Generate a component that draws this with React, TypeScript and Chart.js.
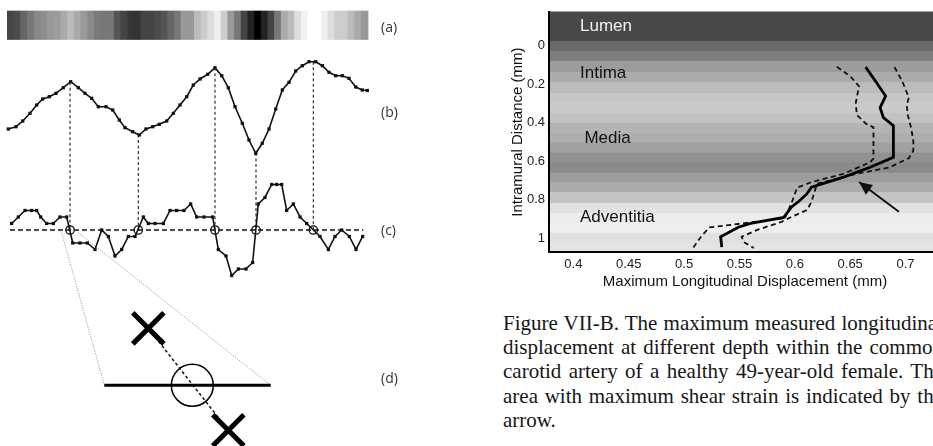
import React, { useEffect, useRef } from 'react';
import { Chart, registerables } from 'chart.js';

Chart.register(...registerables);
Chart.defaults.font.family = "'Liberation Sans', Arial, sans-serif";

// ---------------- Left figure: (a) strip, (b) intensity, (c) derivative, (d) zoom ----------------
// (a) grey level (0-255) of each lateral sample cell of the strip
const stripGray = [70, 76, 102, 119, 136, 142, 153, 156, 170, 187, 170, 154, 138, 122, 119, 119, 85, 68, 53, 51,
  68, 68, 75, 85, 102, 119, 153, 153, 187, 204, 221, 238, 204, 153, 119, 68, 34, 0, 34, 68,
  119, 170, 187, 221, 242, 255, 255, 240, 221, 204, 204, 187, 170, 153];

// (b) intensity profile: lateral position (samples) and intensity
const bPos = [0.15, 1.3, 2.31, 3.4, 4.4, 5.3, 6.29, 7.29, 8.38, 9.49, 10.63, 11.63, 12.63, 13.62, 14.78, 15.78,
  16.77, 17.62, 18.77, 19.76, 20.76, 21.77, 22.75, 23.86, 24.85, 25.85, 26.86, 27.84, 28.85, 30.0, 31.09,
  32.1, 33.08, 34.09, 35.18, 36.18, 37.19, 38.17, 39.18, 40.18, 41.17, 42.17, 43.17, 44.16, 45.16, 46.17,
  47.16, 48.16, 49.16, 50.15, 51.15, 52.16, 53.14, 53.9];
const bVal = [3.1, 3.33, 3.9, 4.67, 5.5, 6.1, 6.33, 6.67, 7.23, 7.83, 7.23, 6.67, 6.17, 5.33, 5.33, 5.0,
  4.0, 3.23, 2.83, 2.5, 3.1, 3.33, 3.57, 3.9, 4.67, 5.5, 6.33, 7.5, 8.1, 8.57, 9.23,
  8.43, 7.23, 5.33, 3.67, 2.0, 0.67, 1.67, 3.1, 5.1, 7.0, 7.77, 8.9, 9.43, 9.83, 9.83,
  9.43, 8.77, 8.43, 8.43, 8.17, 7.3, 7.0, 6.95];

// (c) quantised derivative: lateral position (samples) and level
const cPos = [0.65, 1.65, 2.65, 3.65, 4.4, 5.0, 5.89, 6.89, 7.89, 8.89, 9.79, 10.88, 11.98, 13.13, 14.13, 15.13,
  16.12, 17.12, 18.12, 19.12, 20.36, 21.11, 22.11, 23.36, 24.36, 25.35, 26.45, 27.45, 28.35, 29.45, 30.74,
  31.59, 32.74, 33.59, 34.59, 35.73, 36.73, 37.57, 38.57, 39.58, 40.33, 41.08, 41.82, 42.82, 43.82, 44.82,
  46.81, 48.06, 49.06, 50.06, 51.2, 52.2, 53.2];
const cVal = [1, 2, 3, 3, 3, 2, 1, 1, 2, 2, -2, -2, -2, -3, 0, -1, -4, -3, -1, -1, 2, 1, 1, 1, 3, 3, 3, 4, 2, 2, 2,
  -3, -4, -7, -6, -6, -5, 4, 5, 7, 7, 7, 3, 4, 2, 1, -1, -3, -1, 0, -1, -3, -1];

// zero crossings of (c) (= extrema of (b))
const crossings = [9.39, 19.61, 31.09, 37.23, 45.81];
// extent of the zero reference line of (c)
const zeroLineX = [0.4, 53.3];
// start of the zoom guide lines, in (c) units
const zoomFromX = [8.14, 10.63];
const zoomFromY = [-0.42, -0.42];

// (d) magnified crossing, in local units
const dBaselineX = [-1.1, 0.98];
const dSampleX = [-0.55, 0.45];
const dSampleY = [1.0, -0.79];

const panelLabels = ['(a)', '(b)', '(c)', '(d)'];

// ---------------- Right figure ----------------
const xTicks = [0.4, 0.45, 0.5, 0.55, 0.6, 0.65, 0.7];
const yTicks = [0, 0.2, 0.4, 0.6, 0.8, 1];

// mean displacement vs depth (solid)
const meanDisp = [0.664, 0.674, 0.682, 0.677, 0.68, 0.689, 0.689, 0.668, 0.644, 0.615, 0.611, 0.603, 0.597, 0.59, 0.56, 0.549, 0.533, 0.534];
const meanDepth = [0.112, 0.194, 0.262, 0.322, 0.374, 0.416, 0.579, 0.631, 0.682, 0.734, 0.768, 0.811, 0.837, 0.891, 0.922, 0.942, 0.991, 1.045];
// lower bound (dashed)
const lowDisp = [0.638, 0.65, 0.658, 0.655, 0.656, 0.664, 0.671, 0.671, 0.668, 0.644, 0.615, 0.602, 0.598, 0.591, 0.523, 0.516, 0.508];
const lowDepth = [0.11, 0.159, 0.211, 0.298, 0.36, 0.404, 0.424, 0.586, 0.605, 0.665, 0.708, 0.737, 0.802, 0.895, 0.943, 0.985, 1.05];
// upper bound (dashed)
const highDisp = [0.69, 0.697, 0.703, 0.701, 0.702, 0.705, 0.707, 0.707, 0.703, 0.695, 0.686, 0.656, 0.62, 0.615, 0.611, 0.597, 0.588, 0.566, 0.552, 0.554, 0.563];
const highDepth = [0.112, 0.185, 0.27, 0.308, 0.36, 0.427, 0.494, 0.545, 0.584, 0.605, 0.631, 0.665, 0.716, 0.811, 0.853, 0.888, 0.914, 0.956, 0.991, 1.02, 1.05];
// arrow (tail -> tip) marking maximum shear strain
const arrowDisp = [0.694, 0.658];
const arrowDepth = [0.862, 0.708];

// background depth bands of the B-mode image
const bandEdges = [-0.175, -0.021, 0.031, 0.082, 0.139, 0.19, 0.248, 0.3, 0.351, 0.403, 0.454, 0.505, 0.557, 0.608,
  0.66, 0.711, 0.762, 0.819, 0.87, 0.922, 0.973, 1.025, 1.072];
const bandGray = [72, 106, 125, 156, 171, 188, 198, 202, 194, 180, 173, 160, 145, 138, 157, 172, 196, 226, 236, 239, 224, 228];

const layerNames = ['Lumen', 'Intima', 'Media', 'Adventitia'];
const layerDisp = [0.406, 0.406, 0.41, 0.406];
const layerDepth = [-0.1, 0.142, 0.482, 0.893];
const layerColor = ['#f2f2f2', '#111', '#111', '#111'];

const captionLines = [
  'Figure VII-B. The maximum measured longitudinal',
  'displacement at different depth within the common',
  'carotid artery of a healthy 49-year-old female. The',
  'area with maximum shear strain is indicated by the',
  'arrow.',
];

const pts = (xs: number[], ys: number[]) => xs.map((x, i) => ({ x, y: ys[i] }));
const gray = (g: number) => `rgb(${g},${g},${g})`;

function interp(xs: number[], ys: number[], x: number) {
  for (let i = 1; i < xs.length; i++) {
    if (x <= xs[i]) {
      const t = (x - xs[i - 1]) / (xs[i] - xs[i - 1]);
      return ys[i - 1] + t * (ys[i] - ys[i - 1]);
    }
  }
  return ys[ys.length - 1];
}

const leftGuides = {
  id: 'leftGuides',
  beforeDatasetsDraw(chart: any) {
    const { ctx, scales } = chart;
    const { x, yB, yC, xD, yD } = scales;
    ctx.save();
    ctx.strokeStyle = '#222';
    ctx.lineWidth = 1.1;
    ctx.setLineDash([3, 2.5]);
    crossings.forEach((s) => {
      const px = x.getPixelForValue(s);
      ctx.beginPath();
      ctx.moveTo(px, yB.getPixelForValue(interp(bPos, bVal, s)));
      ctx.lineTo(px, yC.getPixelForValue(0));
      ctx.stroke();
    });
    ctx.strokeStyle = '#888';
    ctx.lineWidth = 0.8;
    ctx.setLineDash([1.2, 1.3]);
    zoomFromX.forEach((sx, i) => {
      ctx.beginPath();
      ctx.moveTo(x.getPixelForValue(sx), yC.getPixelForValue(zoomFromY[i]));
      ctx.lineTo(xD.getPixelForValue(dBaselineX[i]), yD.getPixelForValue(0));
      ctx.stroke();
    });
    ctx.restore();
  },
};

const bandPlugin = {
  id: 'bands',
  beforeDraw(chart: any) {
    const { ctx, chartArea, scales } = chart;
    const y = scales.y;
    ctx.save();
    for (let i = 0; i < bandGray.length; i++) {
      const y0 = y.getPixelForValue(bandEdges[i]);
      const y1 = y.getPixelForValue(bandEdges[i + 1]);
      ctx.fillStyle = gray(bandGray[i]);
      ctx.fillRect(chartArea.left, Math.min(y0, y1) - 0.3, chartArea.right - chartArea.left, Math.abs(y1 - y0) + 0.6);
    }
    ctx.restore();
  },
  beforeDatasetsDraw(chart: any) {
    const { ctx, scales } = chart;
    ctx.save();
    ctx.font = "17px 'Liberation Sans', Arial, sans-serif";
    ctx.textBaseline = 'middle';
    ctx.textAlign = 'left';
    layerNames.forEach((name, i) => {
      ctx.fillStyle = layerColor[i];
      ctx.fillText(name, scales.x.getPixelForValue(layerDisp[i]), scales.y.getPixelForValue(layerDepth[i]));
    });
    ctx.restore();
  },
  afterDatasetsDraw(chart: any) {
    const meta = chart.getDatasetMeta(3);
    if (!meta || meta.data.length < 2) return;
    const p0 = meta.data[0];
    const p1 = meta.data[1];
    const a = Math.atan2(p1.y - p0.y, p1.x - p0.x);
    const len = 13;
    const hw = 6;
    const { ctx } = chart;
    ctx.save();
    ctx.fillStyle = '#111';
    ctx.beginPath();
    ctx.moveTo(p1.x, p1.y);
    const bx = p1.x - len * Math.cos(a);
    const by = p1.y - len * Math.sin(a);
    ctx.lineTo(bx + hw * Math.sin(a), by - hw * Math.cos(a));
    ctx.lineTo(bx - hw * Math.sin(a), by + hw * Math.cos(a));
    ctx.closePath();
    ctx.fill();
    ctx.restore();
  },
};

const hidden = (min: number, max: number) => ({ type: 'linear', display: false, offset: false, min, max, grid: { offset: false } });

export default function App() {
  const leftRef = useRef<HTMLCanvasElement>(null);
  const rightRef = useRef<HTMLCanvasElement>(null);

  useEffect(() => {
    const left = new Chart(leftRef.current as HTMLCanvasElement, {
      type: 'line',
      data: {
        datasets: [
          {
            type: 'bar',
            data: stripGray.map((g, k) => ({ x: k + 0.5, y: [0, 1] })) as any,
            backgroundColor: stripGray.map(gray),
            borderWidth: 0,
            barPercentage: 1,
            categoryPercentage: 1,
            grouped: false,
            xAxisID: 'x',
            yAxisID: 'yA',
          } as any,
          {
            data: pts(bPos, bVal),
            xAxisID: 'x',
            yAxisID: 'yB',
            borderColor: '#111',
            borderWidth: 1.6,
            pointStyle: 'rect',
            pointRadius: 2.3,
            pointBackgroundColor: '#111',
            pointBorderWidth: 0,
          },
          {
            data: pts(cPos, cVal),
            xAxisID: 'x',
            yAxisID: 'yC',
            borderColor: '#111',
            borderWidth: 1.6,
            pointStyle: 'rect',
            pointRadius: 2.3,
            pointBackgroundColor: '#111',
            pointBorderWidth: 0,
          },
          {
            data: zeroLineX.map((x) => ({ x, y: 0 })),
            xAxisID: 'x',
            yAxisID: 'yC',
            borderColor: '#111',
            borderWidth: 1.4,
            borderDash: [5, 3],
            pointRadius: 0,
          },
          {
            data: crossings.map((x) => ({ x, y: 0 })),
            xAxisID: 'x',
            yAxisID: 'yC',
            showLine: false,
            pointRadius: 4.2,
            pointBorderColor: '#111',
            pointBackgroundColor: 'rgba(0,0,0,0)',
            pointBorderWidth: 1.3,
          },
          {
            data: dBaselineX.map((x) => ({ x, y: 0 })),
            xAxisID: 'xD',
            yAxisID: 'yD',
            borderColor: '#000',
            borderWidth: 3,
            pointRadius: 0,
          },
          {
            data: pts(dSampleX, dSampleY),
            xAxisID: 'xD',
            yAxisID: 'yD',
            borderColor: '#111',
            borderWidth: 1.5,
            borderDash: [3, 2.5],
            pointStyle: 'crossRot',
            pointRadius: 22,
            pointBorderWidth: 5,
            pointBorderColor: '#000',
          },
          {
            data: [{ x: 0, y: 0 }],
            xAxisID: 'xD',
            yAxisID: 'yD',
            showLine: false,
            pointRadius: 21,
            pointBorderWidth: 1.5,
            pointBorderColor: '#000',
            pointBackgroundColor: 'rgba(0,0,0,0)',
          },
        ],
      },
      options: {
        responsive: false,
        animation: false,
        events: [],
        layout: { padding: 0, autoPadding: false } as any,
        datasets: { bar: { barPercentage: 1, categoryPercentage: 1 } } as any,
        plugins: { legend: { display: false }, tooltip: { enabled: false } },
        scales: {
          x: hidden(-1.093, 61.78),
          xD: hidden(-2.404, 2.846),
          yA: hidden(-14.26, 1.386),
          yB: hidden(-28.6, 16),
          yC: hidden(-33.23, 35.38),
          yD: hidden(-1.065, 6.76),
        } as any,
      },
      plugins: [leftGuides],
    });

    const tickFont = { family: "'Liberation Sans', Arial, sans-serif", size: 13 };
    const titleFont = { family: "'Liberation Sans', Arial, sans-serif", size: 15 };
    const right = new Chart(rightRef.current as HTMLCanvasElement, {
      type: 'line',
      data: {
        datasets: [
          { data: pts(meanDisp, meanDepth), borderColor: '#000', borderWidth: 2.8, pointRadius: 0 },
          { data: pts(lowDisp, lowDepth), borderColor: '#111', borderWidth: 1.8, borderDash: [5, 3.5], pointRadius: 0 },
          { data: pts(highDisp, highDepth), borderColor: '#111', borderWidth: 1.8, borderDash: [5, 3.5], pointRadius: 0 },
          { data: pts(arrowDisp, arrowDepth), borderColor: '#111', borderWidth: 1.9, pointRadius: 0 },
        ],
      },
      options: {
        responsive: false,
        animation: false,
        events: [],
        layout: { padding: { left: 14.5, top: 10, right: 1, bottom: 0 }, autoPadding: false } as any,
        plugins: { legend: { display: false }, tooltip: { enabled: false } },
        scales: {
          x: {
            type: 'linear',
            min: 0.378,
            max: 0.732,
            grid: { display: false, drawTicks: false },
            border: { display: true, color: '#000', width: 2 },
            ticks: { padding: 4, color: '#222', font: tickFont, callback: (v: any) => String(v) },
            afterBuildTicks: (s: any) => { s.ticks = xTicks.map((value) => ({ value })); },
            afterFit: (s: any) => { s.height = 42.7; },
            title: { display: true, text: 'Maximum Longitudinal Displacement (mm)', color: '#111', font: titleFont, padding: 4 },
          },
          y: {
            type: 'linear',
            reverse: true,
            min: -0.175,
            max: 1.072,
            grid: { display: false, drawTicks: false },
            border: { display: true, color: '#000', width: 2 },
            ticks: { padding: 4, color: '#222', font: tickFont, callback: (v: any) => String(v) },
            afterBuildTicks: (s: any) => { s.ticks = yTicks.map((value) => ({ value })); },
            afterFit: (s: any) => { s.width = 44.5; },
            title: { display: true, text: 'Intramural Distance (mm)', color: '#111', font: titleFont, padding: 4 },
          },
        } as any,
      },
      plugins: [bandPlugin],
    });

    return () => {
      left.destroy();
      right.destroy();
    };
  }, []);

  const labelTops = [26.7, 111.7, 230, 378.3];

  return (
    <div style={{ position: 'fixed', left: 0, top: 0, width: 933, height: 446, overflow: 'hidden', background: '#fff' }}>
      <canvas ref={leftRef} width={420} height={446} style={{ position: 'absolute', left: 0, top: 0, width: 420, height: 446 }} />
      {panelLabels.map((t, i) => (
        <div
          key={t}
          style={{
            position: 'absolute', left: 381, top: labelTops[i] - 10, height: 20, lineHeight: '20px',
            fontFamily: "'Open Sans', sans-serif", fontSize: 14, color: '#333',
          }}
        >
          {t}
        </div>
      ))}
      <canvas ref={rightRef} width={452} height={295} style={{ position: 'absolute', left: 490, top: 0, width: 452, height: 295 }} />
      <div
        style={{
          position: 'absolute', left: 503, top: 311, width: 440,
          fontFamily: "'Liberation Serif', 'Times New Roman', serif", fontSize: 21, lineHeight: '24.2px', color: '#161616',
        }}
      >
        {captionLines.map((line, i) => (
          <div
            key={i}
            style={{
              whiteSpace: 'nowrap',
              textAlign: i < captionLines.length - 1 ? 'justify' : 'left',
              textAlignLast: i < captionLines.length - 1 ? 'justify' : 'left',
            } as any}
          >
            {line}
          </div>
        ))}
      </div>
    </div>
  );
}
